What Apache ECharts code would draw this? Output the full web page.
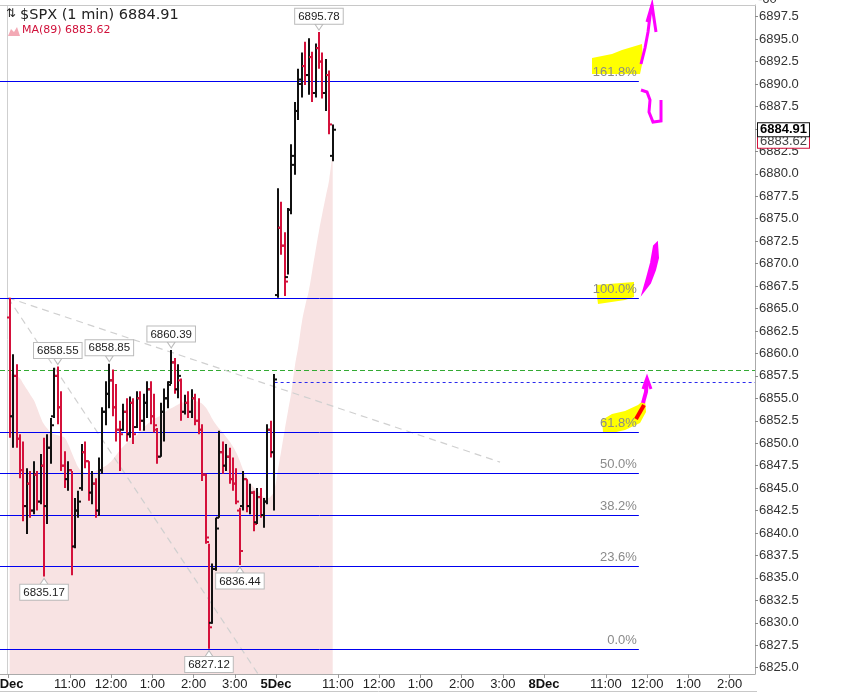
<!DOCTYPE html>
<html><head><meta charset="utf-8">
<script src="https://cdn.jsdelivr.net/npm/echarts@6/dist/echarts.min.js"></script>
<style>html,body{margin:0;padding:0;background:#fff}#c{width:853px;height:694px}</style>
</head><body><div id="c"></div>
<script>
// minutes since 9:30 on 4 Dec (each session = 390 minutes); 5-minute bars
const barStart = [0,5,10,15,20,25,30,35,40,45,50,55,60,65,70,75,80,85,90,95,100,105,110,115,120,125,130,135,140,145,150,155,160,165,170,175,180,185,190,195,200,205,210,215,220,225,230,235,240,245,250,255,260,265,270,275,280,285,290,295,300,305,310,315,320,325,330,335,340,345,350,355,360,365,370,375,380,385,
  390,395,400,405,410,415,420,425,430,435,440,445,450,455,460,465,470];
const barOpen = [6864.0,6853.0,6857.5,6850.5,6847.0,6843.0,6845.5,6842.5,6846.5,6843.5,6847.5,6843.0,6849.5,6853.0,6857.5,6854.0,6847.5,6846.0,6847.0,6838.5,6842.5,6845.0,6849.0,6848.0,6844.5,6845.5,6842.5,6847.0,6853.5,6855.5,6857.0,6854.0,6851.5,6851.5,6853.5,6851.0,6854.5,6851.8,6855.0,6852.5,6854.5,6856.0,6853.0,6851.5,6848.5,6853.5,6855.0,6856.8,6859.0,6856.0,6857.0,6853.5,6854.5,6853.5,6855.0,6852.5,6851.5,6846.5,6839.0,6830.0,6836.0,6841.7,6849.0,6847.5,6848.5,6846.0,6845.5,6842.5,6843.0,6846.0,6843.0,6844.5,6841.2,6844.0,6842.0,6843.5,6851.5,6849.0,
  6866.5,6874.0,6872.0,6868.5,6876.0,6881.0,6887.0,6890.0,6892.0,6891.0,6893.0,6889.0,6894.0,6892.5,6889.0,6891.0,6882.0];
const barHigh = [6866.2,6859.9,6858.8,6851.0,6850.2,6847.2,6846.9,6848.0,6846.9,6848.8,6850.6,6851.0,6852.8,6858.4,6858.55,6855.8,6849.1,6848.0,6846.9,6843.9,6844.7,6849.9,6850.2,6848.0,6846.9,6846.1,6848.4,6854.0,6856.9,6858.85,6858.2,6856.6,6852.5,6854.4,6855.0,6855.2,6855.0,6855.8,6855.8,6855.5,6856.9,6856.9,6855.5,6851.7,6854.5,6856.1,6856.9,6860.39,6859.5,6858.8,6857.2,6855.4,6855.8,6856.0,6855.5,6855.0,6852.1,6846.6,6838.8,6836.6,6841.7,6851.4,6850.2,6849.9,6849.5,6848.4,6847.2,6842.8,6846.9,6846.0,6845.5,6844.7,6845.0,6845.0,6843.9,6852.1,6852.5,6857.7,
  6878.4,6876.9,6873.5,6876.2,6883.3,6888.0,6891.7,6893.5,6894.7,6895.1,6893.6,6894.5,6895.78,6893.5,6892.8,6891.5,6885.5];
const barLow = [6850.6,6849.5,6849.5,6846.1,6841.3,6839.9,6841.7,6842.1,6842.5,6843.2,6835.17,6841.0,6847.7,6852.8,6852.1,6846.9,6845.0,6844.7,6835.3,6838.3,6841.7,6844.7,6847.2,6843.6,6843.2,6841.7,6841.9,6846.6,6852.0,6853.9,6853.0,6850.2,6846.9,6851.4,6850.2,6850.6,6849.9,6851.7,6851.4,6851.4,6852.8,6852.1,6851.2,6847.7,6848.5,6850.2,6853.9,6856.6,6855.5,6855.0,6852.5,6853.2,6852.8,6852.8,6852.0,6851.0,6845.8,6838.8,6827.12,6829.9,6835.8,6841.7,6846.6,6846.9,6845.5,6844.7,6843.2,6836.44,6842.5,6842.3,6842.1,6840.2,6841.0,6841.7,6840.6,6843.2,6848.4,6842.5,
  6866.2,6871.0,6866.4,6868.8,6875.5,6879.9,6886.0,6888.5,6889.9,6888.8,6888.0,6888.5,6891.7,6888.4,6887.0,6884.4,6881.4];
const barClose = [6853.0,6857.5,6850.5,6847.0,6843.0,6845.5,6842.5,6846.5,6843.5,6847.5,6843.0,6849.5,6852.0,6857.5,6854.0,6847.5,6846.0,6847.0,6838.5,6842.5,6843.5,6849.0,6848.0,6844.5,6845.5,6842.5,6847.0,6853.5,6855.5,6857.0,6854.0,6851.5,6851.0,6853.5,6851.0,6854.5,6851.0,6855.0,6852.5,6854.5,6856.0,6853.0,6852.0,6848.5,6853.5,6855.0,6856.5,6859.0,6856.0,6857.5,6853.5,6854.5,6853.5,6855.0,6852.5,6851.5,6846.5,6839.5,6829.5,6836.0,6840.5,6849.0,6847.5,6848.5,6846.0,6845.5,6843.5,6838.0,6846.0,6843.0,6844.5,6841.0,6844.0,6842.0,6843.5,6851.5,6849.0,6857.1,
  6874.0,6872.0,6868.0,6876.0,6882.0,6887.0,6890.5,6892.0,6891.0,6893.0,6889.0,6894.0,6892.5,6889.0,6891.0,6885.5,6884.91];
const ma89 = [6857.8,6857.7,6857.5,6857.2,6856.6,6856.0,6855.4,6854.8,6853.9,6852.9,6852.1,6851.6,6851.2,6851.0,6850.9,6850.8,6850.6,6849.9,6849.0,6848.1,6847.3,6846.9,6846.7,6846.6,6846.7,6846.9,6847.1,6847.3,6847.5,6847.8,6848.2,6848.7,6849.2,6849.6,6850.0,6850.3,6850.6,6850.9,6851.3,6851.7,6852.1,6852.4,6852.7,6852.9,6853.1,6853.4,6853.7,6853.9,6854.1,6854.3,6854.5,6854.6,6854.7,6854.8,6854.7,6854.6,6854.4,6854.0,6853.4,6852.7,6852.1,6851.6,6851.2,6850.7,6850.2,6849.6,6848.9,6848.0,6847.0,6846.2,6845.6,6845.1,6844.7,6844.3,6844.0,6843.9,6844.1,6844.8,
  6846.9,6849.1,6851.4,6853.6,6855.8,6858.6,6860.8,6863.4,6865.3,6866.9,6869.1,6871.4,6873.6,6875.6,6877.5,6879.4,6882.5];
const fibRatios = [0, 23.6, 38.2, 50.0, 61.8, 100.0, 161.8];
const fibLowPrice = 6827.12;
const fibHighPrice = 6866.2;
const fibEndMinute = 918;
const greenLevel = 6858.1;
const blueLevel = 6856.8;
const blueStartMinute = 390;
const trendLines = [[[0, 6866.2], [716, 6847.9]], [[0, 6866.2], [364, 6824.3]]];
const extremes = [[452.5, 6895.78, 'hi'], [72.5, 6858.55, 'hi'], [147.5, 6858.85, 'hi'], [237.5, 6860.39, 'hi'], [52.5, 6835.17, 'lo'], [337.5, 6836.44, 'lo'], [292.5, 6827.12, 'lo']];
const lastPrice = 6884.91;
const lastMA = 6883.62;
const xTickMinutes = [0, 90, 150, 210, 270, 330, 390, 480, 540, 600, 660, 720, 780, 870, 930, 990, 1050];
const xTickLabels = ['4Dec', '11:00', '12:00', '1:00', '2:00', '3:00', '5Dec', '11:00', '12:00', '1:00', '2:00', '3:00', '8Dec', '11:00', '12:00', '1:00', '2:00'];
const yTickValues = [6825.0, 6827.5, 6830.0, 6832.5, 6835.0, 6837.5, 6840.0, 6842.5, 6845.0, 6847.5, 6850.0, 6852.5, 6855.0, 6857.5, 6860.0, 6862.5, 6865.0, 6867.5, 6870.0, 6872.5, 6875.0, 6877.5, 6880.0, 6882.5, 6885.0, 6887.5, 6890.0, 6892.5, 6895.0, 6897.5];

const X_MIN = -11.6, X_MAX = 1087, Y_MIN = 6824.3, Y_MAX = 6898.8;
const FONT = 'Liberation Sans, Arial, sans-serif';
const UP = '#111111', DOWN = '#d4113b';
const FIB_BLUE = '#0000f0';

const ohlc = barStart.map((t, i) => [t + 2.5, barOpen[i], barHigh[i], barLow[i], barClose[i]]);
const maData = barStart.map((t, i) => [t + 2.5, ma89[i]]);
const fibData = fibRatios.map(r => [fibEndMinute, fibLowPrice + (fibHighPrice - fibLowPrice) * r / 100, r]);
const plain = (color, type, width) => ({color: color, type: type, width: width});

const chart = echarts.init(document.getElementById('c'), null, {renderer: 'canvas'});
chart.setOption({
  animation: false,
  grid: {left: 0, right: 98, top: 5, bottom: 20, show: false, containLabel: false, outerBoundsMode: 'none'},
  xAxis: {
    type: 'value', min: X_MIN, max: X_MAX,
    splitLine: {show: false},
    axisLine: {show: true, onZero: false, lineStyle: {color: '#aaa'}},
    axisTick: {show: true, customValues: xTickMinutes, length: 4, lineStyle: {color: '#999'}},
    axisLabel: {
      customValues: xTickMinutes, margin: 4, fontSize: 13, color: '#222', fontFamily: FONT, hideOverlap: false,
      formatter: v => { const s = xTickLabels[xTickMinutes.indexOf(v)] || ''; return s.indexOf('Dec') >= 0 ? '{b|' + s + '}' : s; },
      rich: {b: {fontWeight: 'bold', fontSize: 13, fontFamily: FONT, color: '#111'}}
    }
  },
  yAxis: {
    type: 'value', position: 'right', min: Y_MIN, max: Y_MAX, scale: true,
    splitLine: {show: false},
    axisLine: {show: true, onZero: false, lineStyle: {color: '#aaa'}},
    axisTick: {show: true, customValues: yTickValues, length: 3, lineStyle: {color: '#888'}},
    axisLabel: {customValues: yTickValues, margin: 4, fontSize: 13, color: '#333', fontFamily: FONT, formatter: v => v.toFixed(1)}
  },
  series: [
    {
      name: 'MA(89)', type: 'line', data: maData, smooth: true, symbol: 'none', z: 1,
      color: '#f3d6d6',
      lineStyle: {width: 0, color: '#f3d6d6'},
      areaStyle: {color: '#f8e3e3', opacity: 1, origin: 'start'},
      markLine: {
        silent: true, symbol: 'none', z: 2,
        label: {show: false},
        data: [
          [{coord: [X_MIN, greenLevel], lineStyle: plain('#33aa33', [5, 3], 1)}, {coord: [X_MAX, greenLevel], lineStyle: plain('#33aa33', [5, 3], 1)}],
          [{coord: [blueStartMinute - 2, blueLevel], lineStyle: plain('#2a2aee', [3, 3], 1)}, {coord: [X_MAX, blueLevel], lineStyle: plain('#2a2aee', [3, 3], 1)}],
          [{coord: trendLines[0][0], lineStyle: plain('#d0d0d0', [7, 5], 1.2)}, {coord: trendLines[0][1], lineStyle: plain('#d0d0d0', [7, 5], 1.2)}],
          [{coord: trendLines[1][0], lineStyle: plain('#d0d0d0', [7, 5], 1.2)}, {coord: trendLines[1][1], lineStyle: plain('#d0d0d0', [7, 5], 1.2)}],
          [{coord: [-1.5, Y_MIN], lineStyle: plain('#cfcfcf', 'solid', 1)}, {coord: [-1.5, Y_MAX], lineStyle: plain('#cfcfcf', 'solid', 1)}]
        ]
      }
    },
    {
      name: 'Fibonacci', type: 'custom', z: 2, data: fibData, silent: true,
      encode: {x: 0, y: 1},
      renderItem: (params, api) => {
        const p = api.value(1), r = api.value(2);
        const a = api.coord([X_MIN, p]), b = api.coord([api.value(0), p]);
        const y = Math.round(a[1]) + 0.5;
        return {type: 'group', children: [
          {type: 'line', shape: {x1: a[0], y1: y, x2: b[0], y2: y}, style: {stroke: FIB_BLUE, lineWidth: 1}},
          {type: 'text', x: b[0] - 2, y: y - 3, style: {text: r.toFixed(1) + '%', fill: '#8a8a8a', font: '13px ' + FONT, align: 'right', verticalAlign: 'bottom'}}
        ]};
      }
    },
    {
      name: 'lastValues', type: 'line', data: [], z: 6, symbol: 'none',
      markLine: {
        silent: true, symbol: 'none', z: 6,
        lineStyle: {width: 0, color: 'rgba(0,0,0,0)'},
        label: {position: 'end', distance: 3, fontFamily: FONT, fontSize: 13, backgroundColor: '#fff', padding: [0, 2, 0, 2], borderWidth: 1},
        data: [
          {yAxis: lastMA, lineStyle: {width: 0, color: 'rgba(0,0,0,0)'}, label: {formatter: lastMA.toFixed(2), color: '#444', borderColor: '#d4113b'}},
          {yAxis: lastPrice, lineStyle: {width: 0, color: 'rgba(0,0,0,0)'}, label: {formatter: lastPrice.toFixed(2), color: '#000', fontWeight: 'bold', borderColor: '#111'}}
        ]
      }
    },
    {
      name: '$SPX', type: 'custom', z: 3, data: ohlc,
      encode: {x: 0, y: [1, 2, 3, 4]},
      renderItem: (params, api) => {
        const t = api.value(0), o = api.value(1), h = api.value(2), l = api.value(3), c = api.value(4);
        const ph = api.coord([t, h]), pl = api.coord([t, l]), po = api.coord([t, o]), pc = api.coord([t, c]);
        const col = c >= o ? UP : DOWN;
        const x = Math.round(ph[0]);
        const st = {stroke: col, lineWidth: 2};
        return {type: 'group', children: [
          {type: 'line', shape: {x1: x, y1: ph[1], x2: x, y2: pl[1]}, style: st},
          {type: 'line', shape: {x1: x - 3, y1: po[1], x2: x, y2: po[1]}, style: st},
          {type: 'line', shape: {x1: x, y1: pc[1], x2: x + 3, y2: pc[1]}, style: st}
        ]};
      },
      markPoint: {
        silent: true, z: 5,
        data: extremes.map(e => ({
          coord: [e[0], e[1]],
          symbol: 'triangle', symbolSize: [8, 6],
          symbolRotate: e[2] === 'hi' ? 180 : 0,
          symbolOffset: [0, e[2] === 'hi' ? -5 : 5],
          itemStyle: {color: '#fff', borderColor: '#bbb', borderWidth: 1},
          label: {
            show: true, formatter: e[1].toFixed(2), position: e[2] === 'hi' ? 'top' : 'bottom', distance: 0,
            color: '#222', fontSize: 11.5, fontFamily: FONT,
            backgroundColor: '#fff', borderColor: '#bbb', borderWidth: 1, padding: [2, 3, 1, 3]
          }
        }))
      }
    }
  ],
  graphic: [
    {type: 'line', shape: {x1: 0, y1: 5.5, x2: 756, y2: 5.5}, style: {stroke: '#c8c8c8', lineWidth: 1}, z: 10},
    {type: 'line', shape: {x1: 0, y1: 691.5, x2: 757, y2: 691.5}, style: {stroke: '#c8c8c8', lineWidth: 1}, z: 10},
    {type: 'text', left: 758, top: -7, style: {text: '-60', font: '13px ' + FONT, fill: '#333'}, z: 10},
    {type: 'text', left: 6, top: 8, style: {text: '\u21c5', font: '12px DejaVu Sans', fill: '#222'}, z: 10},
    {type: 'text', left: 20, top: 8, style: {text: '$SPX (1 min) ' + lastPrice.toFixed(2), font: '14.5px DejaVu Sans', fill: '#222'}, z: 10},
    {type: 'polygon', shape: {points: [[8, 36], [11, 29], [14, 32], [17, 27], [20, 36]]}, style: {fill: '#f3a9b5'}, z: 10},
    {type: 'text', left: 22, top: 25, style: {text: 'MA(89) ' + lastMA.toFixed(2), font: '11px DejaVu Sans', fill: '#d0103a'}, z: 10},
    // hand-drawn highlights
    {type: 'polygon', shape: {points: [[592, 58], [602, 56], [612, 54], [622, 50], [632, 47], [642, 44], [643, 60], [640, 74], [592, 74]]}, style: {fill: '#ffff00'}, z: -1},
    {type: 'polygon', shape: {points: [[596, 285], [634, 282], [634, 297], [625, 300], [598, 304], [597, 296]]}, style: {fill: '#ffff00'}, z: -1},
    {type: 'polygon', shape: {points: [[603, 432], [602, 420], [612, 414], [625, 411], [638, 405], [645, 399], [646, 412], [640, 423], [625, 430], [612, 433]]}, style: {fill: '#ffff00'}, z: -1},
    {type: 'line', shape: {x1: 636, y1: 419, x2: 644, y2: 405}, style: {stroke: '#ff0000', lineWidth: 4}, z: 11},
    {type: 'polyline', shape: {points: [[641, 64], [645, 48], [648, 32], [650, 16], [652, 5]]}, style: {stroke: '#ff00ff', lineWidth: 3, fill: null}, z: 11},
    {type: 'polyline', shape: {points: [[647, 22], [652, 5], [656, 32]]}, style: {stroke: '#ff00ff', lineWidth: 3, fill: null}, z: 11},
    {type: 'polyline', shape: {points: [[641, 90], [647, 92], [650, 100], [649, 112], [653, 122], [661, 121], [661, 100]]}, style: {stroke: '#ff00ff', lineWidth: 3, fill: null}, z: 11},
    {type: 'polygon', shape: {points: [[643, 292], [647, 278], [651, 263], [654, 246], [657, 243], [658, 258], [655, 270], [650, 283]]}, style: {fill: '#ff00ff', stroke: '#ff00ff', lineWidth: 2}, z: 11},
    {type: 'polyline', shape: {points: [[643, 403], [646, 392], [647, 380]]}, style: {stroke: '#ff00ff', lineWidth: 4, fill: null}, z: 11},
    {type: 'polyline', shape: {points: [[643, 389], [647, 378], [651, 389]]}, style: {stroke: '#ff00ff', lineWidth: 3, fill: null}, z: 11}
  ]
});
</script>
</body></html>
